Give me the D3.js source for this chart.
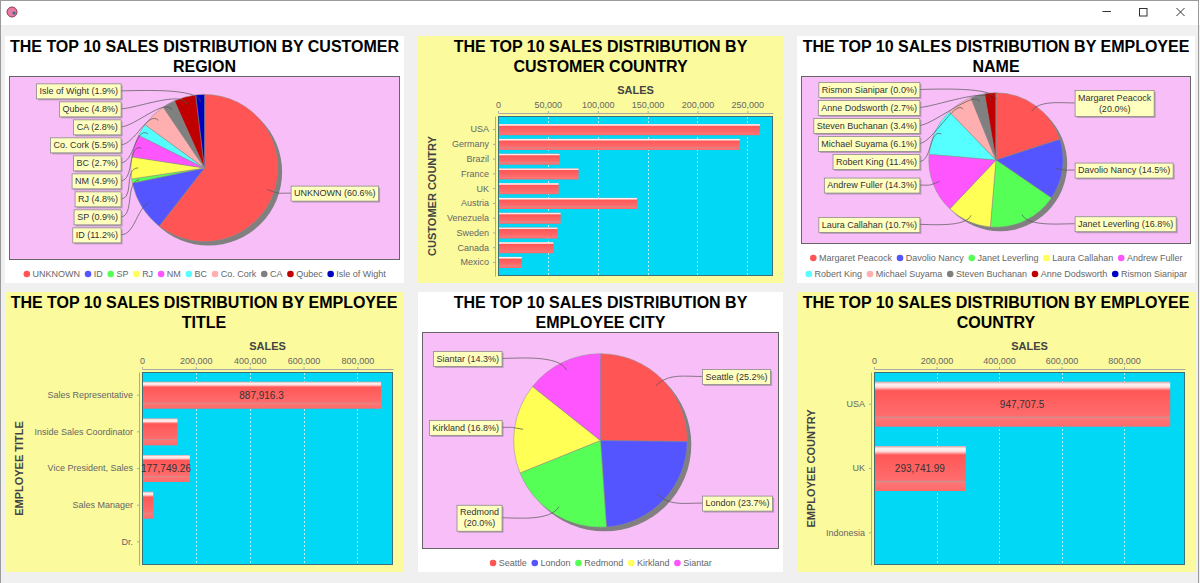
<!DOCTYPE html>
<meta charset="utf-8">
<style>
body { margin: 0; background: #f0f0f0; }
svg { display: block; font-family: 'Liberation Sans', Arial, sans-serif; }
.title { font-size: 16px; font-weight: 700; fill: #000; }
.axis-title { font-size: 11px; font-weight: 700; fill: #444; }
.axis .domain { stroke: #aaa; }
.axis line { stroke: #aaa; }
.axis text { font-family: 'Liberation Sans', Arial, sans-serif; font-size: 9px; fill: #666; }
.legend text { font-size: 9px; fill: #666; }
.pie-label text { font-size: 9px; fill: #333; }
.item-label { font-size: 10px; fill: #333; }
</style>
<body>
<script src="https://cdnjs.cloudflare.com/ajax/libs/d3/7.8.5/d3.min.js"></script>
<script>
var regionNames = ['UNKNOWN', 'ID', 'SP', 'RJ', 'NM', 'BC', 'Co. Cork', 'CA', 'Qubec', 'Isle of Wight']
var regionShares = [60.6, 11.2, 0.9, 4.8, 4.9, 2.7, 5.5, 2.8, 4.8, 1.9]

var customerCountries = ['USA', 'Germany', 'Brazil', 'France', 'UK', 'Austria', 'Venezuela', 'Sweden', 'Canada', 'Mexico']
var customerCountrySales = [262600, 242300, 61800, 80800, 60800, 139300, 62800, 59500, 55500, 23900]

var employeeNames = ['Margaret Peacock', 'Davolio Nancy', 'Janet Leverling', 'Laura Callahan', 'Andrew Fuller',
    'Robert King', 'Michael Suyama', 'Steven Buchanan', 'Anne Dodsworth', 'Rismon Sianipar']
var employeeShares = [20.0, 14.5, 16.8, 10.7, 14.3, 11.4, 6.1, 3.4, 2.7, 0.0]

var employeeTitles = ['Sales Representative', 'Inside Sales Coordinator', 'Vice President, Sales', 'Sales Manager', 'Dr.']
var employeeTitleSales = [887916.3, 131800, 177749.26, 41700, 0]
var labelledTitles = ['Sales Representative', 'Vice President, Sales']

var employeeCities = ['Seattle', 'London', 'Redmond', 'Kirkland', 'Siantar']
var employeeCityShares = [25.2, 23.7, 20.0, 16.8, 14.3]

var employeeCountries = ['USA', 'UK', 'Indonesia']
var employeeCountrySales = [947707.5, 293741.99, 0]
var labelledCountries = ['USA', 'UK']

var chartTitles = [
    ['THE TOP 10 SALES DISTRIBUTION BY CUSTOMER', 'REGION'],
    ['THE TOP 10 SALES DISTRIBUTION BY', 'CUSTOMER COUNTRY'],
    ['THE TOP 10 SALES DISTRIBUTION BY EMPLOYEE', 'NAME'],
    ['THE TOP 10 SALES DISTRIBUTION BY EMPLOYEE', 'TITLE'],
    ['THE TOP 10 SALES DISTRIBUTION BY', 'EMPLOYEE CITY'],
    ['THE TOP 10 SALES DISTRIBUTION BY EMPLOYEE', 'COUNTRY']
]

var pieColors = ['#ff5555', '#5555ff', '#55ff55', '#ffff55', '#ff55ff', '#55ffff', '#ffafaf', '#808080', '#c00000', '#0000c0']
var yellow = '#fbfa9c'
var pink = '#f8bef8'
var cyan = '#00d8f6'

var panels = [
    { x: 5, y: 36, w: 399, h: 247, bg: '#ffffff' },
    { x: 418, y: 36, w: 365, h: 247, bg: yellow },
    { x: 797, y: 36, w: 398, h: 247, bg: '#ffffff' },
    { x: 5, y: 292, w: 398, h: 280, bg: yellow },
    { x: 418, y: 292, w: 365, h: 280, bg: '#ffffff' },
    { x: 797, y: 292, w: 398, h: 280, bg: yellow }
]

var smallFont = "9px 'Liberation Sans'"
var ctx = document.createElement('canvas').getContext('2d')
function textWidth(s, font) {
    ctx.font = font
    return ctx.measureText(s).width
}

var svg = d3.select('body').append('svg')
    .attr('width', 1200)
    .attr('height', 583)

// window frame
svg.append('rect').attr('width', 1200).attr('height', 583).attr('fill', '#f0f0f0')
svg.append('rect').attr('width', 1200).attr('height', 25).attr('fill', '#ffffff')
svg.append('rect').attr('x', 0.5).attr('y', 0.5).attr('width', 1198).attr('height', 590)
    .attr('fill', 'none').attr('stroke', '#9a9a9a')
svg.append('circle').attr('cx', 12).attr('cy', 12).attr('r', 5)
    .attr('fill', '#e77aa0').attr('stroke', '#8c3a5a').attr('stroke-width', 1)
svg.append('circle').attr('cx', 14).attr('cy', 13).attr('r', 1.5).attr('fill', '#2c6e8c')
svg.append('line').attr('x1', 1102.5).attr('x2', 1111).attr('y1', 11.5).attr('y2', 11.5)
    .attr('stroke', '#333')
svg.append('rect').attr('x', 1139.5).attr('y', 8.5).attr('width', 7.5).attr('height', 7.5)
    .attr('fill', 'none').attr('stroke', '#333')
svg.append('path').attr('d', 'M1176.5,8L1184.5,16M1184.5,8L1176.5,16')
    .attr('stroke', '#333').attr('stroke-width', 1)

var defs = svg.append('defs')
var grad = defs.append('linearGradient').attr('id', 'barGrad')
    .attr('x1', 0).attr('y1', 0).attr('x2', 0).attr('y2', 1)
;[[0, '#d8a4a4'], [0.06, '#fff2f2'], [0.12, '#ffdede'], [0.2, '#ff5757'], [0.76, '#ff6c6c'],
  [0.79, '#c99191'], [0.82, '#ff7575'], [1, '#ff6a6a']].forEach(function (s) {
    grad.append('stop').attr('offset', s[0]).attr('stop-color', s[1])
})

function panelGroup(p, titleLines) {
    var g = svg.append('g').attr('transform', 'translate(' + p.x + ',' + p.y + ')')
    g.append('rect').attr('width', p.w).attr('height', p.h).attr('fill', p.bg)
    g.selectAll('.title').data(titleLines).enter().append('text')
        .attr('class', 'title')
        .attr('x', p.w / 2)
        .attr('y', function (d, i) { return 16 + i * 20 })
        .attr('text-anchor', 'middle')
        .text(function (d) { return d })
    return g
}

function legendRows(names, maxW) {
    var rows = [[]]
    var rowW = 0
    names.forEach(function (n, i) {
        var w = textWidth(n, smallFont) + 13.7
        if (rowW + w - 4.7 > maxW && rows[rows.length - 1].length) {
            rows.push([])
            rowW = 0
        }
        rows[rows.length - 1].push({ i: i, name: n, w: w })
        rowW += w
    })
    return rows
}

function drawPie(p, names, shares, titleLines) {
    var g = panelGroup(p, titleLines)
    var rows = legendRows(names, p.w - 10)
    var plot = { x0: 4, x1: p.w - 4, y0: 40, y1: p.h - 7 - 16 * rows.length }

    g.append('rect')
        .attr('x', plot.x0 + 0.5).attr('y', plot.y0 + 0.5)
        .attr('width', plot.x1 - plot.x0 - 1).attr('height', plot.y1 - plot.y0 - 1)
        .attr('fill', pink).attr('stroke', '#666')

    var cx = (plot.x0 + plot.x1) / 2
    var cy = (plot.y0 + plot.y1) / 2
    var r = 0.4 * (plot.y1 - plot.y0)

    var arcs = d3.pie().sort(null).value(function (d) { return d })(shares)
    var arc = d3.arc().innerRadius(0).outerRadius(r)

    var pg = g.append('g').attr('transform', 'translate(' + cx + ',' + cy + ')')
    pg.append('circle').attr('cx', 4).attr('cy', 4).attr('r', r).attr('fill', '#808080')
    pg.selectAll('.slice').data(arcs).enter().append('path')
        .attr('class', 'slice')
        .attr('d', arc)
        .attr('fill', function (d, i) { return pieColors[i] })
        .attr('stroke', '#8a8a8a')
        .attr('stroke-width', 0.5)

    // labels, JFreeChart style: left and right columns, pushed apart when they overlap
    var labels = arcs.map(function (a, i) {
        var mid = (a.startAngle + a.endAngle) / 2
        var left = mid > Math.PI
        var pct = '(' + shares[i].toFixed(1) + '%)'
        var text = names[i] + ' ' + pct
        var edge = left ? cx - 1.14 * r : cx + 1.17 * r
        var room = left ? edge - plot.x0 - 4 : plot.x1 - edge - 4
        var lines = textWidth(text, smallFont) + 6 > room ? [names[i], pct] : [text]
        return {
            i: i, mid: mid, left: left, lines: lines, edge: edge,
            bw: d3.max(lines, function (s) { return textWidth(s, smallFont) }) + 6,
            bh: lines.length * 11 + 4,
            y: cy - 1.05 * r * Math.cos(mid)
        }
    })

    ;[true, false].forEach(function (side) {
        var list = labels.filter(function (l) { return l.left === side })
            .sort(function (a, b) { return a.y - b.y })
        if (!list.length) return
        list[0].y = Math.max(list[0].y, plot.y0 + 2 + list[0].bh / 2)
        for (var k = 1; k < list.length; k++) {
            list[k].y = Math.max(list[k].y, list[k - 1].y + (list[k - 1].bh + list[k].bh) / 2 + 3)
        }
        var last = list[list.length - 1]
        last.y = Math.min(last.y, plot.y1 - 2 - last.bh / 2)
        for (k = list.length - 2; k >= 0; k--) {
            list[k].y = Math.min(list[k].y, list[k + 1].y - (list[k + 1].bh + list[k].bh) / 2 - 3)
        }
    })

    var lg = g.append('g').attr('class', 'pie-label')
    labels.forEach(function (l) {
        var s = Math.sin(l.mid)
        var c = Math.cos(l.mid)
        var dir = l.left ? -1 : 1
        var path = d3.path()
        path.moveTo(l.edge, l.y)
        path.bezierCurveTo(cx + dir * 0.95 * r, l.y, cx + 1.1 * r * s, cy - 1.1 * r * c,
            cx + 0.9 * r * s, cy - 0.9 * r * c)
        lg.append('path').attr('d', path.toString())
            .attr('fill', 'none').attr('stroke', '#555').attr('stroke-width', 0.7)

        var bx = l.left ? l.edge - l.bw : l.edge
        var by = l.y - l.bh / 2
        lg.append('rect').attr('x', bx + 2).attr('y', by + 2).attr('width', l.bw).attr('height', l.bh)
            .attr('fill', 'rgba(110,110,110,0.45)')
        lg.append('rect').attr('x', bx + 0.5).attr('y', by + 0.5).attr('width', l.bw).attr('height', l.bh)
            .attr('fill', '#ffffc0').attr('stroke', '#8a8a8a').attr('stroke-width', 0.8)
        l.lines.forEach(function (t, j) {
            lg.append('text')
                .attr('x', bx + l.bw / 2 + 0.5)
                .attr('y', by + 10.7 + j * 11)
                .attr('text-anchor', 'middle')
                .text(t)
        })
    })

    // legend
    var leg = g.append('g').attr('class', 'legend')
    rows.forEach(function (row, ri) {
        var total = d3.sum(row, function (d) { return d.w }) - 4.7
        var x = (p.w - total) / 2
        var y = p.h - 9 - 16 * (rows.length - 1 - ri)
        row.forEach(function (d) {
            leg.append('circle').attr('cx', x + 3.5).attr('cy', y).attr('r', 3.3)
                .attr('fill', pieColors[d.i])
            leg.append('text').attr('x', x + 9.2).attr('y', y + 3.2).text(d.name)
            x += d.w
        })
    })
}

function drawBars(p, cats, vals, labelled, yTitle, titleLines) {
    var g = panelGroup(p, titleLines)
    var maxW = d3.max(cats, function (c) { return textWidth(c, smallFont) })
    var plot = { x0: Math.round(30 + maxW + 8), x1: p.w - 10, y0: 80, y1: p.h - 7 }

    var n = cats.length
    var H = plot.y1 - plot.y0
    var bw = 0.7 * H / n
    var gap = n > 1 ? 0.2 * H / (n - 1) : 0
    var step = bw + gap

    var x = d3.scaleLinear().domain([0, d3.max(vals) * 1.05]).range([plot.x0, plot.x1])
    var y = d3.scaleBand().domain(cats).range([plot.y0, plot.y1])
        .paddingInner(gap / step).paddingOuter(0.05 * H / step)

    g.append('rect')
        .attr('x', plot.x0 + 0.5).attr('y', plot.y0 + 0.5)
        .attr('width', plot.x1 - plot.x0 - 1).attr('height', plot.y1 - plot.y0 - 1)
        .attr('fill', cyan).attr('stroke', '#3b6f7c')

    var ticks = x.ticks(5)
    g.selectAll('.grid').data(ticks.filter(function (t) { return t > 0 })).enter().append('line')
        .attr('class', 'grid')
        .attr('x1', function (d) { return Math.round(x(d)) + 0.5 })
        .attr('x2', function (d) { return Math.round(x(d)) + 0.5 })
        .attr('y1', plot.y0 + 1).attr('y2', plot.y1 - 1)
        .attr('stroke', '#ffffff').attr('stroke-width', 0.7).attr('stroke-dasharray', '2,2')

    g.selectAll('.bar').data(cats).enter().filter(function (d, i) { return vals[i] > 0 })
        .append('rect')
        .attr('class', 'bar')
        .attr('x', plot.x0 + 1)
        .attr('y', function (d) { return y(d) })
        .attr('width', function (d) { return x(vals[cats.indexOf(d)]) - plot.x0 - 1 })
        .attr('height', y.bandwidth())
        .attr('fill', 'url(#barGrad)')

    g.selectAll('.item-label').data(labelled).enter().append('text')
        .attr('class', 'item-label')
        .attr('x', function (d) { return (plot.x0 + x(vals[cats.indexOf(d)])) / 2 })
        .attr('y', function (d) { return y(d) + y.bandwidth() / 2 + 3.5 })
        .attr('text-anchor', 'middle')
        .text(function (d) { return d3.format(',')(vals[cats.indexOf(d)]) })

    g.append('g')
        .attr('class', 'axis')
        .attr('transform', 'translate(0,' + (plot.y0 - 3) + ')')
        .call(d3.axisTop(x).ticks(5).tickSize(2).tickSizeOuter(0).tickPadding(3).tickFormat(d3.format(',')))

    g.append('g')
        .attr('class', 'axis')
        .attr('transform', 'translate(' + (plot.x0 - 3) + ',0)')
        .call(d3.axisLeft(y).tickSize(2).tickSizeOuter(0).tickPadding(4))

    g.append('text')
        .attr('class', 'axis-title')
        .attr('x', (plot.x0 + plot.x1) / 2)
        .attr('y', plot.y0 - 22)
        .attr('text-anchor', 'middle')
        .text('SALES')

    g.append('text')
        .attr('class', 'axis-title')
        .attr('transform', 'translate(18,' + (plot.y0 + plot.y1) / 2 + ') rotate(-90)')
        .attr('text-anchor', 'middle')
        .text(yTitle)
}

drawPie(panels[0], regionNames, regionShares, chartTitles[0])
drawBars(panels[1], customerCountries, customerCountrySales, [], 'CUSTOMER COUNTRY', chartTitles[1])
drawPie(panels[2], employeeNames, employeeShares, chartTitles[2])
drawBars(panels[3], employeeTitles, employeeTitleSales, labelledTitles, 'EMPLOYEE TITLE', chartTitles[3])
drawPie(panels[4], employeeCities, employeeCityShares, chartTitles[4])
drawBars(panels[5], employeeCountries, employeeCountrySales, labelledCountries, 'EMPLOYEE COUNTRY', chartTitles[5])
</script>
</body>
